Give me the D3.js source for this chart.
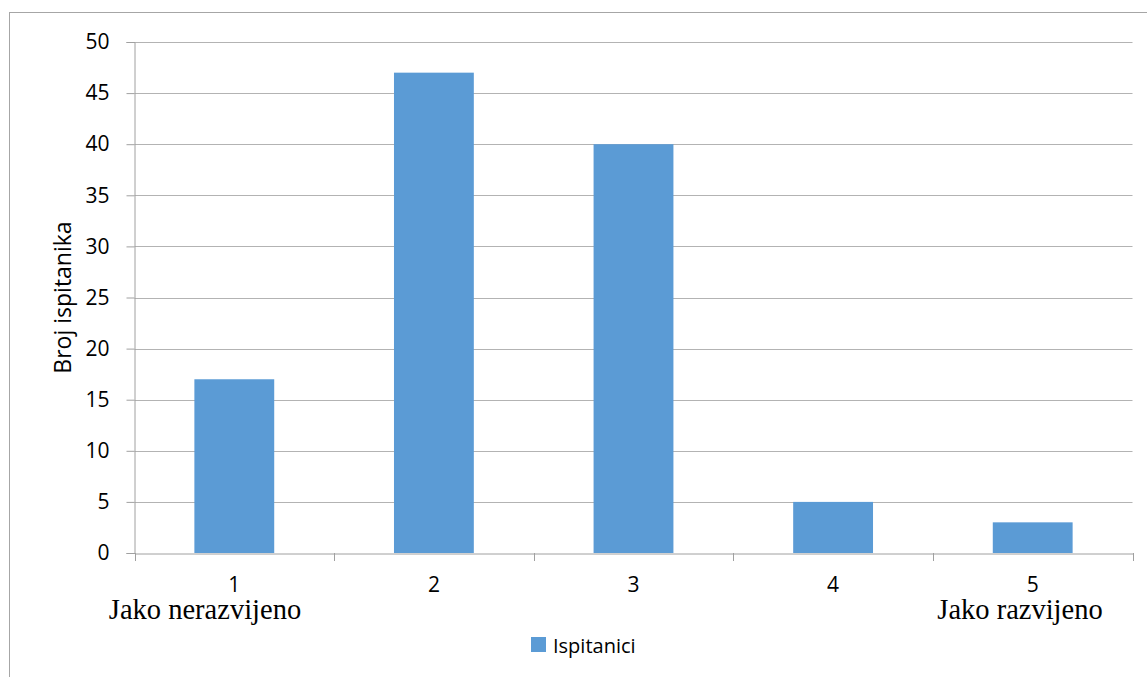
<!DOCTYPE html>
<html><head><meta charset="utf-8">
<script src="https://cdn.jsdelivr.net/npm/d3@7"></script>
<style>body{margin:0;background:#fff}</style>
</head><body>
<svg id="c" width="1147" height="677"></svg>
<script>
const categories = ["1","2","3","4","5"];
const values = [17, 47, 40, 5, 3];
const yTicks = [0,5,10,15,20,25,30,35,40,45,50];
const seriesName = "Ispitanici";
const yTitle = "Broj ispitanika";
const endLabels = ["Jako nerazvijeno", "Jako razvijeno"];

(function(){
const svg = d3.select("#c");
const mL = 134.5, mR = 1132.5, mT = 42, mB = 553;
svg.append("rect").attr("x",9.5).attr("y",12.5).attr("width",1150).attr("height",700)
  .attr("fill","none").attr("stroke","#a6a6a6").attr("stroke-width",1);

const x = d3.scaleBand().domain(categories).range([mL,mR]).paddingInner(0.6).paddingOuter(0.3);
const y = d3.scaleLinear().domain([0,50]).range([mB,mT]);
const font = "'Open Sans', sans-serif";

svg.append("g").selectAll("line").data(yTicks.filter(d=>d>0)).join("line")
  .attr("x1",mL).attr("x2",mR).attr("y1",d=>Math.round(y(d))+0.5).attr("y2",d=>Math.round(y(d))+0.5)
  .attr("stroke","#b3b3b3").attr("stroke-width",1);

svg.append("g").selectAll("rect").data(values).join("rect")
  .attr("x",(d,i)=>x(categories[i])).attr("width",x.bandwidth())
  .attr("y",d=>y(d)).attr("height",d=>y(0)-y(d)).attr("fill","#5b9bd5");

const ya = svg.append("g").attr("transform",`translate(${mL},0)`)
  .call(d3.axisLeft(y).tickValues(yTicks).tickSize(8).tickPadding(17));
ya.select(".domain").attr("stroke","#a0a0a0");
ya.selectAll(".tick line").attr("stroke","#a0a0a0");
ya.attr("font-size",21).attr("font-family",font);
ya.selectAll("text").style("font-size","21px").style("font-family",font).attr("fill","#000");

const xa = svg.append("g").attr("transform",`translate(0,${mB+0.5})`)
  .call(d3.axisBottom(x).tickSize(0).tickPadding(24));
xa.select(".domain").attr("stroke","#a0a0a0");
xa.attr("font-size",21).attr("font-family",font);
xa.selectAll("text").style("font-size","21px").style("font-family",font).attr("fill","#000");
const step = x.step();
const bounds = d3.range(categories.length+1).map(i=>mL + i*step);
svg.append("g").selectAll("line").data(bounds).join("line")
  .attr("x1",d=>Math.round(d)+0.5).attr("x2",d=>Math.round(d)+0.5)
  .attr("y1",mB).attr("y2",mB+8).attr("stroke","#a0a0a0");

svg.append("text").attr("x",205).attr("y",619).attr("text-anchor","middle")
  .style("font-family","'Liberation Serif', serif").style("font-size","28.5px").text(endLabels[0]);
svg.append("text").attr("x",1020).attr("y",619).attr("text-anchor","middle")
  .style("font-family","'Liberation Serif', serif").style("font-size","28.5px").text(endLabels[1]);

svg.append("text").attr("transform",`translate(71,${(mT+mB)/2}) rotate(-90)`)
  .attr("text-anchor","middle").style("font-family",font).style("font-size","23px").text(yTitle);

svg.append("rect").attr("x",531).attr("y",637).attr("width",15).attr("height",15).attr("fill","#5b9bd5");
svg.append("text").attr("x",553).attr("y",653).style("font-family",font).style("font-size","20px").text(seriesName);
})();
</script>
</body></html>
